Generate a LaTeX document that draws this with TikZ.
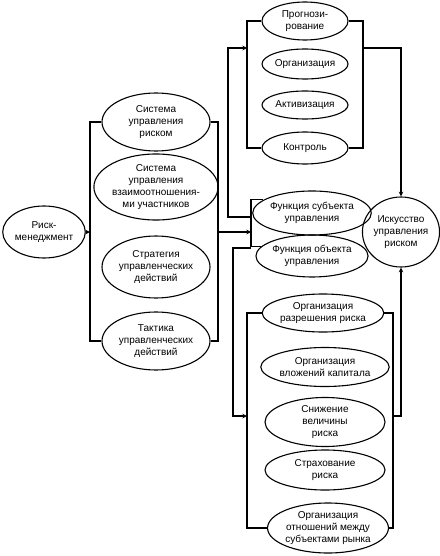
\documentclass[tikz,border=0pt]{standalone}
\usepackage{fontspec}
\setmainfont{Liberation Sans}
\usetikzlibrary{shapes.geometric}

\begin{document}
\begin{tikzpicture}[x=1pt,y=-1pt,>=stealth,line width=1.1pt,
    every node/.style={font=\fontsize{10}{12}\selectfont, align=center},
    oval/.style={ellipse, draw, inner sep=0pt}]
                \useasboundingbox (0,0) rectangle (439,556);

                \node[oval, minimum width=72, minimum height=52] (rm) at (44,232) {Риск-\\менеджмент};

                \node[oval, minimum width=108, minimum height=58] (s1) at (156,122) {Система\\управления\\риском};
                \node[oval, minimum width=112, minimum height=66] (s2) at (156,187) {Система\\управления\\взаимоотношения-\\ми участников};
                \node[oval, minimum width=108, minimum height=62] (s3) at (156,267) {Стратегия\\управленческих\\действий};
                \node[oval, minimum width=108, minimum height=58] (s4) at (156,341) {Тактика\\управленческих\\действий};

                \coordinate (lb) at (90,232);
                \coordinate (rb) at (218,232);
                \draw (s1.west) -| (lb) |- (s4.west);
                \draw (s1.east) -| (rb) |- (s4.east);
                \draw[->] (rm) -- (lb);

                \node[oval, minimum width=100, minimum height=44] (fs) at (312,213) {Функция субъекта\\управления};
                \node[oval, minimum width=100, minimum height=42] (fo) at (312,256) {Функция объекта\\управления};

                \coordinate (fb) at (251,232);
                \coordinate (fu) at (251,217);
                \coordinate (fd) at (251,248);
                \draw (fs.165) -| (fb) |- (fo.170);
                \draw[->] (rb) -- (fb);

                \node[oval, minimum width=86, minimum height=38] (p1) at (305,21) {Прогнози-\\рование};
                \node[oval, minimum width=86, minimum height=30] (p2) at (305,64) {Организация};
                \node[oval, minimum width=86, minimum height=28] (p3) at (305,105) {Активизация};
                \node[oval, minimum width=86, minimum height=32] (p4) at (305,148) {Контроль};

                \coordinate (pb) at (247,48);
                \coordinate (pr) at (363,48);
                \coordinate (ut) at (228,48);
                \draw (p1.west) -| (pb) |- (p4.west);
                \draw (p1.east) -| (pr) |- (p4.east);
                \draw[->] (fu) -| (ut) -- (pb);

                \node[oval, minimum width=72, minimum height=70] (iu) at (401,232) {Искусство\\управления\\риском};
                \draw[->] (pr) -| (iu.north);

                \node[oval, minimum width=120, minimum height=38] (o1) at (323,313) {Организация\\разрешения риска};
                \node[oval, minimum width=120, minimum height=39] (o2) at (325,367) {Организация\\вложений капитала};
                \node[oval, minimum width=120, minimum height=49] (o3) at (325,422) {Снижение\\величины\\риска};
                \node[oval, minimum width=120, minimum height=40] (o4) at (325,470) {Страхование\\риска};
                \node[oval, minimum width=118, minimum height=50] (o5) at (328,528) {Организация\\отношений между\\субъектами рынка};

                \coordinate (ob) at (247,416);
                \coordinate (orr) at (393,416);
                \coordinate (dt) at (233,416);
                \draw (o1.west) -| (ob) |- (o5.west);
                \draw (o1.east) -| (orr) |- (o5.east);
                \draw[->] (fd) -| (dt) -- (ob);
                \draw[->] (orr) -| (iu.south);
            \end{tikzpicture}
\end{document}
